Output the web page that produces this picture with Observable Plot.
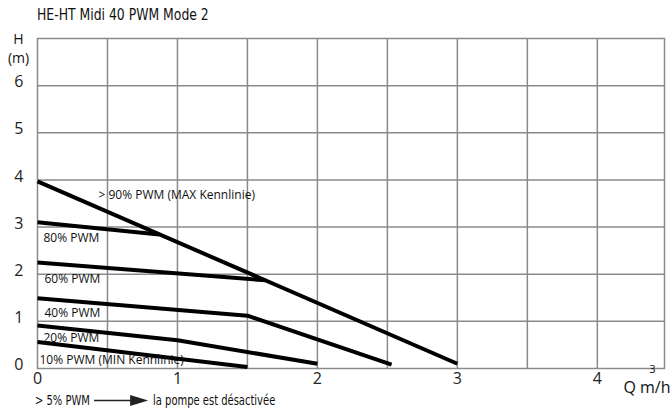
<!DOCTYPE html>
<html><head><meta charset="utf-8">
<script src="https://cdn.jsdelivr.net/npm/d3@7"></script>
<script src="https://cdn.jsdelivr.net/npm/@observablehq/plot@0.6"></script>
<style>
html,body{margin:0;padding:0;background:#fff}
body{width:671px;height:411px;overflow:hidden;position:relative}
#title{position:absolute;left:37px;top:6px;font:15.5px "Liberation Sans Narrow","DejaVu Sans Condensed",sans-serif;color:#111;white-space:nowrap;transform:scaleX(0.89);transform-origin:0 50%}
#chart{position:absolute;left:0;top:28px}
#caption{position:absolute;left:35px;top:392px;font:13.5px "Liberation Sans Narrow","DejaVu Sans Condensed",sans-serif;color:#111;white-space:nowrap;display:flex;align-items:center;transform:scaleX(0.82);transform-origin:0 50%}
#caption svg{margin:0 6px 0 5px}
</style>
</head><body>
<div id="title">HE-HT Midi 40 PWM Mode 2</div>
<div id="chart"></div>
<div id="caption"><span>&gt; 5% PWM</span><svg width="66" height="11" viewBox="0 0 66 11"><line x1="0" y1="5.5" x2="46" y2="5.5" stroke="#222" stroke-width="1.4"/><polygon points="44,0 66,5.5 44,11" fill="#222"/></svg><span>la pompe est désactivée</span></div>
<script>
// Series names
const seriesNames = ["> 90% PWM (MAX Kennlinie)", "80% PWM", "60% PWM", "40% PWM", "20% PWM", "10% PWM (MIN Kennlinie)"];
// Flow Q (m³/h) and head H (m) for each curve
const qMax = [0, 3.0];          const hMax = [3.97, 0.10];
const q80  = [0, 0.87];         const h80  = [3.10, 2.84];
const q60  = [0, 1.63];         const h60  = [2.25, 1.87];
const q40  = [0, 1.5, 2.53];    const h40  = [1.49, 1.12, 0.08];
const q20  = [0, 1.0, 2.0];     const h20  = [0.91, 0.60, 0.10];
const q10  = [0, 1.5];          const h10  = [0.56, 0.03];
// Axis ticks
const xTicks = [0, 1, 2, 3, 4];
const yTicks = [0, 1, 2, 3, 4, 5, 6];
const xGrid = [0.5, 1, 1.5, 2, 2.5, 3, 3.5, 4];
const yGrid = [1, 2, 3, 4, 5, 6];
const xDomain = [0, 4.48];
const yDomain = [0, 7];

const qs = [qMax, q80, q60, q40, q20, q10];
const hs = [hMax, h80, h60, h40, h20, h10];
const curves = seriesNames.map((name, i) => qs[i].map((q, j) => ({name, q, h: hs[i][j]})));
// label offsets from each curve's starting point (px)
const labelOffsets = [[61, 14], [6, 16], [7, 17], [7, 15], [6, 13], [2, 18]];

const gridStyle = {stroke: "#8a8a8a", strokeOpacity: 1, strokeWidth: 1.5};
const plot = Plot.plot({
  width: 671,
  height: 364,
  marginTop: 10,
  marginBottom: 24,
  marginLeft: 37,
  marginRight: 7,
  style: {fontFamily: "'Open Sans', sans-serif", overflow: "visible", background: "transparent", color: "#222"},
  x: {domain: xDomain},
  y: {domain: yDomain},
  marks: [
    Plot.ruleX(xGrid, gridStyle),
    Plot.ruleY(yGrid, gridStyle),
    Plot.frame(gridStyle),
    Plot.axisX(xTicks, {tickSize: 0, tickPadding: 4, fontSize: 16, tickFormat: d3.format("d"), label: null}),
    Plot.axisY(yTicks, {tickSize: 0, tickPadding: 14, fontSize: 16, dy: -3.5, tickFormat: d3.format("d"), label: null}),
    ...curves.map(c => Plot.line(c, {x: "q", y: "h", stroke: "#000", strokeWidth: 4, strokeLinecap: "butt", strokeLinejoin: "miter"})),
    ...curves.map((c, i) => Plot.text([c[0]], {x: "q", y: "h", text: "name", textAnchor: "start", fontSize: 12, fill: "#111", dx: labelOffsets[i][0], dy: labelOffsets[i][1]})),
    Plot.text(["H"], {frameAnchor: "top-left", textAnchor: "middle", fontSize: 14, dx: -19, dy: -4, fill: "#111"}),
    Plot.text(["(m)"], {frameAnchor: "top-left", textAnchor: "middle", fontSize: 14, dx: -19, dy: 15, fill: "#111"}),
    Plot.text(["Q m/h"], {frameAnchor: "bottom-right", textAnchor: "end", fontSize: 16, dx: 6, dy: 24, fill: "#111"}),
    Plot.text(["3"], {frameAnchor: "bottom-right", textAnchor: "middle", fontSize: 11, dx: -12, dy: 4, fill: "#111"})
  ]
});
document.getElementById("chart").appendChild(plot);
</script>
</body></html>
